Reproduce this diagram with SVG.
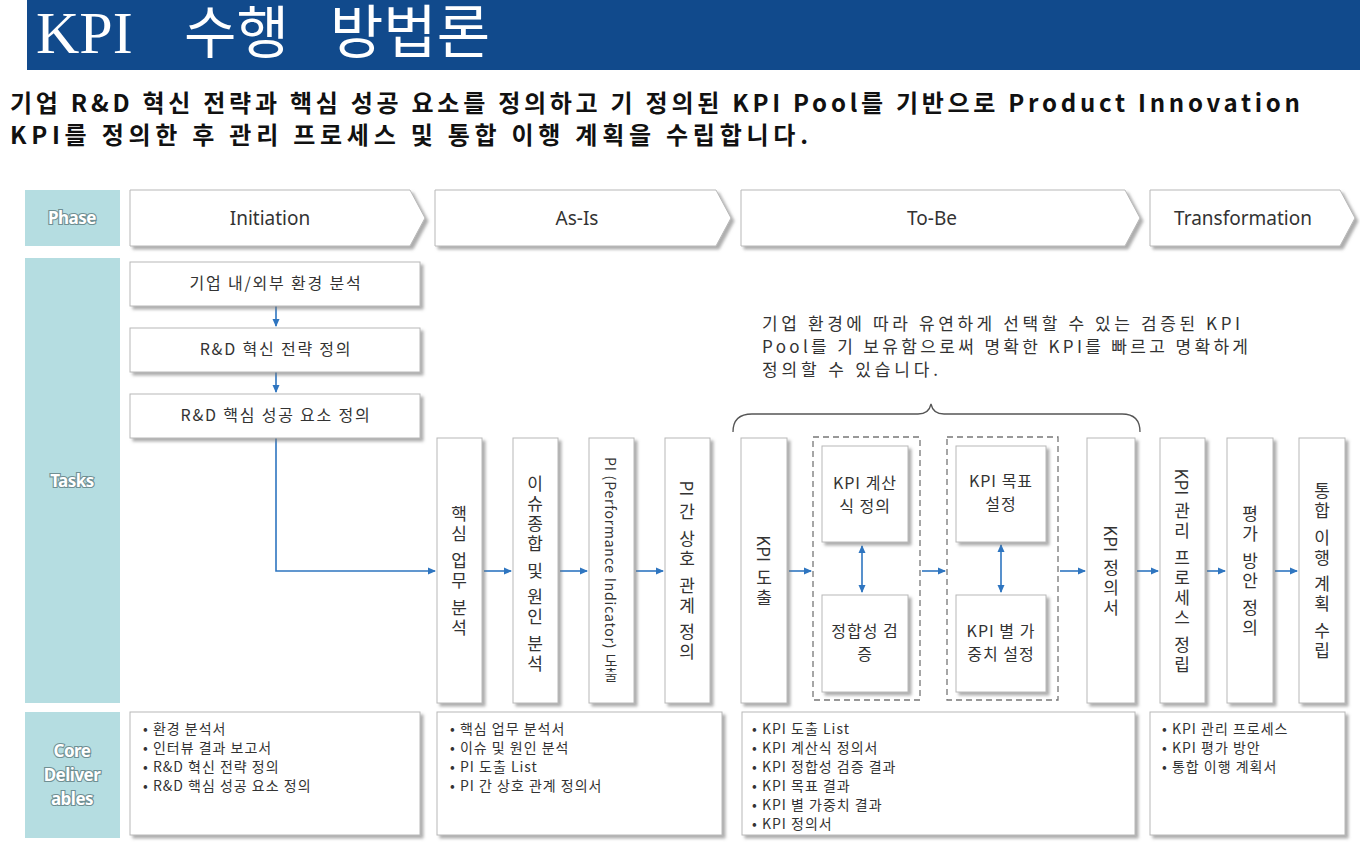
<svg xmlns="http://www.w3.org/2000/svg" width="1360" height="848" viewBox="0 0 1360 848">
<defs>
<filter id="sh" x="-10%" y="-10%" width="130%" height="130%">
<feDropShadow dx="3" dy="3" stdDeviation="1.5" flood-color="#777" flood-opacity="0.6"/>
</filter>
<marker id="ah" markerWidth="8" markerHeight="8" refX="7" refY="4" orient="auto-start-reverse" markerUnits="userSpaceOnUse">
<path d="M0,0.5 L8,4 L0,7.5 Z" fill="#2e75c0"/>
</marker>
<style>
.box{fill:#fff;stroke:#b8b8b8;stroke-width:1;filter:url(#sh)}
.lab{fill:#b5dde1}
.labt{font-family:"Noto Sans","Liberation Sans",sans-serif;font-weight:bold;font-size:17px;fill:#fff;stroke:#6f8f93;stroke-width:2.2;paint-order:stroke;text-anchor:middle;letter-spacing:-0.5px}
.ph{font-family:"Noto Sans","Liberation Sans",sans-serif;font-size:19px;fill:#333;text-anchor:middle}
.t{font-family:"Noto Sans CJK KR","Noto Sans",sans-serif;font-size:16px;fill:#333;text-anchor:middle;letter-spacing:1px}
.ti{font-family:"Noto Sans CJK KR","Noto Sans",sans-serif;font-size:16px;fill:#333;text-anchor:middle;letter-spacing:1.8px}
.v{font-family:"Noto Sans CJK KR","Noto Sans",sans-serif;font-size:17px;fill:#333;text-anchor:middle;writing-mode:vertical-rl;letter-spacing:3px}
.l{letter-spacing:0px}
.d{font-family:"Noto Sans CJK KR","Noto Sans",sans-serif;font-size:14px;fill:#333;letter-spacing:1px}
.c{stroke:#2e75c0;stroke-width:1.6;fill:none}
.dash{fill:none;stroke:#777;stroke-width:1.3;stroke-dasharray:6 4}
</style>
</defs>
<rect width="1360" height="848" fill="#fff"/>
<g id="title">
<rect x="27" y="0" width="1333" height="70" fill="#114a8c"/>
<text y="53" font-family="'Liberation Serif','Noto Sans CJK KR',serif" fill="#fff"><tspan x="36" font-size="60">KPI</tspan><tspan x="184" font-size="57">수행</tspan><tspan x="330" font-size="58">방법론</tspan></text>
</g>
<g id="subtitle" font-family="'Noto Sans CJK KR','Noto Sans',sans-serif" font-weight="bold" font-size="24" fill="#111">
<text x="10" y="112" textLength="1290" lengthAdjust="spacing">기업 R&amp;D 혁신 전략과 핵심 성공 요소를 정의하고 기 정의된 KPI Pool를 기반으로 Product Innovation</text>
<text x="10" y="144" textLength="798" lengthAdjust="spacing">KPI를 정의한 후 관리 프로세스 및 통합 이행 계획을 수립합니다.</text>
</g>
<g id="labels">
<rect class="lab" x="25" y="190" width="95" height="56"/>
<text class="labt" x="72" y="224">Phase</text>
<rect class="lab" x="25" y="258" width="95" height="445"/>
<text class="labt" x="72" y="487">Tasks</text>
<rect class="lab" x="25" y="712" width="95" height="126"/>
<text class="labt" x="72" y="757">Core</text>
<text class="labt" x="72" y="781">Deliver</text>
<text class="labt" x="72" y="805">ables</text>
</g>
<g id="phases">
<path class="box" d="M130,190 H410 L425,218 L410,246 H130 Z"/>
<text class="ph" x="270" y="225">Initiation</text>
<path class="box" d="M435,190 H716 L731,218 L716,246 H435 Z"/>
<text class="ph" x="577" y="225">As-Is</text>
<path class="box" d="M741,190 H1125 L1140,218 L1125,246 H741 Z"/>
<text class="ph" x="932" y="225">To-Be</text>
<path class="box" d="M1150,190 H1340 L1355,218 L1340,246 H1150 Z"/>
<text class="ph" x="1243" y="225">Transformation</text>
</g>
<g id="connectors">
<line class="c" x1="276" y1="306" x2="276" y2="326" marker-end="url(#ah)"/>
<line class="c" x1="276" y1="372" x2="276" y2="392" marker-end="url(#ah)"/>
<polyline class="c" points="276,438 276,571 435,571" marker-end="url(#ah)"/>
<line class="c" x1="484" y1="571" x2="511" y2="571" marker-end="url(#ah)"/>
<line class="c" x1="560" y1="571" x2="587" y2="571" marker-end="url(#ah)"/>
<line class="c" x1="636" y1="571" x2="663" y2="571" marker-end="url(#ah)"/>
<line class="c" x1="789" y1="571" x2="811" y2="571" marker-end="url(#ah)"/>
<line class="c" x1="922" y1="571" x2="945" y2="571" marker-end="url(#ah)"/>
<line class="c" x1="1060" y1="571" x2="1085" y2="571" marker-end="url(#ah)"/>
<line class="c" x1="1137" y1="571" x2="1158" y2="571" marker-end="url(#ah)"/>
<line class="c" x1="1207" y1="571" x2="1225" y2="571" marker-end="url(#ah)"/>
<line class="c" x1="1275" y1="571" x2="1297" y2="571" marker-end="url(#ah)"/>
<line class="c" x1="862" y1="546" x2="862" y2="592" marker-start="url(#ah)" marker-end="url(#ah)"/>
<line class="c" x1="1001" y1="545" x2="1001" y2="592" marker-start="url(#ah)" marker-end="url(#ah)"/>
</g>
<g id="init-tasks">
<rect class="box" x="130" y="262" width="290" height="44"/>
<text class="ti" x="276" y="289">기업 내/외부 환경 분석</text>
<rect class="box" x="130" y="328" width="290" height="44"/>
<text class="ti" x="276" y="355">R&amp;D 혁신 전략 정의</text>
<rect class="box" x="130" y="394" width="290" height="44"/>
<text class="ti" x="276" y="421">R&amp;D 핵심 성공 요소 정의</text>
</g>
<g id="asis-tasks">
<rect class="box" x="437" y="438" width="45" height="265"/>
<text class="v" x="459" y="572">핵심 업무 분석</text>
<rect class="box" x="513" y="438" width="45" height="265"/>
<text class="v" x="535" y="575">이슈종합 및 원인 분석</text>
<rect class="box" x="589" y="438" width="45" height="265"/>
<text class="v" x="611" y="570" style="font-size:14px;letter-spacing:0.8px">PI (Performance Indicator) 도출</text>
<rect class="box" x="665" y="438" width="45" height="265"/>
<text class="v" x="687" y="572"><tspan class="l">PI</tspan> 간 상호 관계 정의</text>
</g>
<g id="brace">
<path d="M733,432 Q733,414 752,414 H918 Q929,414 931,404 Q933,414 944,414 H1122 Q1140,414 1140,432" fill="none" stroke="#555" stroke-width="1.3"/>
<g font-family="'Noto Sans CJK KR','Noto Sans',sans-serif" font-size="17" fill="#333">
<text x="762" y="330" textLength="478" lengthAdjust="spacing">기업 환경에 따라 유연하게 선택할 수 있는 검증된 KPI</text>
<text x="762" y="353" textLength="486" lengthAdjust="spacing">Pool를 기 보유함으로써 명확한 KPI를 빠르고 명확하게</text>
<text x="762" y="376" textLength="176" lengthAdjust="spacing">정의할 수 있습니다.</text>
</g>
</g>
<g id="tobe-tasks">
<rect class="box" x="741" y="438" width="46" height="265"/>
<text class="v" x="764" y="572"><tspan class="l">KPI</tspan> 도출</text>
<rect class="dash" x="813" y="437" width="107" height="263"/>
<rect class="box" x="822" y="446" width="86" height="96"/>
<text class="t" x="865" y="489">KPI 계산</text>
<text class="t" x="865" y="512">식 정의</text>
<rect class="box" x="822" y="595" width="86" height="97"/>
<text class="t" x="865" y="637">정합성 검</text>
<text class="t" x="865" y="660">증</text>
<rect class="dash" x="947" y="437" width="111" height="263"/>
<rect class="box" x="956" y="446" width="90" height="96"/>
<text class="t" x="1001" y="487">KPI 목표</text>
<text class="t" x="1001" y="510">설정</text>
<rect class="box" x="956" y="595" width="90" height="97"/>
<text class="t" x="1001" y="637">KPI 별 가</text>
<text class="t" x="1001" y="660">중치 설정</text>
<rect class="box" x="1087" y="438" width="48" height="265"/>
<text class="v" x="1111" y="572"><tspan class="l">KPI</tspan> 정의서</text>
</g>
<g id="trans-tasks">
<rect class="box" x="1160" y="438" width="45" height="265"/>
<text class="v" x="1182" y="572"><tspan class="l">KPI</tspan> 관리 프로세스 정립</text>
<rect class="box" x="1227" y="438" width="46" height="265"/>
<text class="v" x="1250" y="572">평가 방안 정의</text>
<rect class="box" x="1299" y="438" width="46" height="265"/>
<text class="v" x="1322" y="572">통합 이행 계획 수립</text>
</g>
<g id="deliverables">
<rect class="box" x="130" y="712" width="290" height="123"/>
<text class="d" x="143" y="734">• 환경 분석서</text>
<text class="d" x="143" y="753">• 인터뷰 결과 보고서</text>
<text class="d" x="143" y="772">• R&amp;D 혁신 전략 정의</text>
<text class="d" x="143" y="791">• R&amp;D 핵심 성공 요소 정의</text>
<rect class="box" x="437" y="712" width="285" height="123"/>
<text class="d" x="450" y="734">• 핵심 업무 분석서</text>
<text class="d" x="450" y="753">• 이슈 및 원인 분석</text>
<text class="d" x="450" y="772">• PI 도출 List</text>
<text class="d" x="450" y="791">• PI 간 상호 관계 정의서</text>
<rect class="box" x="742" y="712" width="393" height="123"/>
<text class="d" x="752" y="734">• KPI 도출 List</text>
<text class="d" x="752" y="753">• KPI 계산식 정의서</text>
<text class="d" x="752" y="772">• KPI 정합성 검증 결과</text>
<text class="d" x="752" y="791">• KPI 목표 결과</text>
<text class="d" x="752" y="810">• KPI 별 가중치 결과</text>
<text class="d" x="752" y="829">• KPI 정의서</text>
<rect class="box" x="1150" y="712" width="195" height="123"/>
<text class="d" x="1162" y="734">• KPI 관리 프로세스</text>
<text class="d" x="1162" y="753">• KPI 평가 방안</text>
<text class="d" x="1162" y="772">• 통합 이행 계획서</text>
</g>
</svg>
